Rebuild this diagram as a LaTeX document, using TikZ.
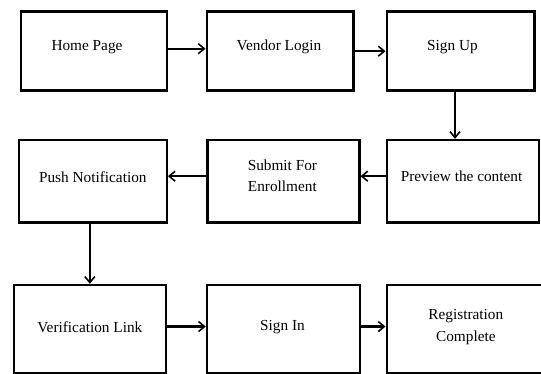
\documentclass[tikz,border=0pt]{standalone}
\usepackage{fontspec}
\setmainfont{Liberation Serif}
\usetikzlibrary{arrows.meta,calc}
\begin{document}
\begin{tikzpicture}[x=1pt,y=-1pt,
  box/.style={draw=black, line width=2.4pt, inner sep=0pt, rectangle},
  txt/.style={font=\fontsize{15.3}{21.5}\selectfont, align=center, inner sep=0pt},
  arr/.style={draw=black, line width=2.2pt, -{Straight Barb[length=6pt,width=10pt,line width=1.6pt]}}]
\useasboundingbox[fill=white] (0,0) rectangle (541,374);
% row 1
\node[box, minimum width=146pt, minimum height=79pt] (home) at (93.7,51.2) {};
\node[box, minimum width=146.6pt, minimum height=79pt] (vendor) at (280,51.2) {};
\node[box, minimum width=147.6pt, minimum height=79pt] (signup) at (460.5,51.2) {};
% row 2
\node[box, minimum width=147.8pt, minimum height=82.3pt] (push) at (92.8,181.2) {};
\node[box, minimum width=151.8pt, minimum height=82.3pt] (submit) at (283.4,181.2) {};
\node[box, minimum width=152.3pt, minimum height=82.3pt] (preview) at (462.85,181.2) {};
% row 3
\node[box, minimum width=151.7pt, minimum height=88.5pt] (verif) at (89.85,329.25) {};
\node[box, minimum width=153pt, minimum height=88.5pt] (signin) at (283.5,329.25) {};
\node[box, minimum width=158.3pt, minimum height=88.5pt] (reg) at (465.85,329.25) {};
% texts
\node[txt] (t1) at ($(home.center)+(-6.7,-4.5)$) {Home Page};
\node[txt] (t2) at ($(vendor.center)+(-1,-4.5)$) {Vendor Login};
\node[txt] (t3) at ($(signup.center)+(-8,-4.5)$) {Sign Up};
\node[txt] (t4) at ($(push.center)+(0,-4.5)$) {Push Notification};
\node[txt] (t5) at ($(submit.center)+(-1,-5.6)$) {Submit For\\Enrollment};
\node[txt] (t6) at ($(preview.center)+(-1.3,-4.5)$) {Preview the content};
\node[txt] (t7) at ($(verif.center)+(0,-2.5)$) {Verification Link};
\node[txt] (t8) at ($(signin.center)+(-1,-2.5)$) {Sign In};
\node[txt] (t9) at ($(reg.center)+(0,-2)$) {Registration\\Complete};
% connectors
\draw[arr] ([yshift=2.5pt]home.east) -- ([yshift=2.5pt]home.east -| vendor.west);
\draw[arr] (vendor.east) -- (signup.west);
\draw[arr] ([xshift=-5.5pt]signup.south) -- ([xshift=-5.5pt]signup.south |- preview.north);
\draw[arr] ([yshift=5pt]preview.west) -- ([yshift=5pt]preview.west -| submit.east);
\draw[arr] ([yshift=5pt]submit.west) -- ([yshift=5pt]submit.west -| push.east);
\draw[arr] (push.south -| verif.north) -- (verif.north);
\draw[arr] ([yshift=2.7pt]verif.east) -- ([yshift=2.7pt]verif.east -| signin.west);
\draw[arr] ([yshift=2.7pt]signin.east) -- ([yshift=2.7pt]signin.east -| reg.west);
\end{tikzpicture}
\end{document}
